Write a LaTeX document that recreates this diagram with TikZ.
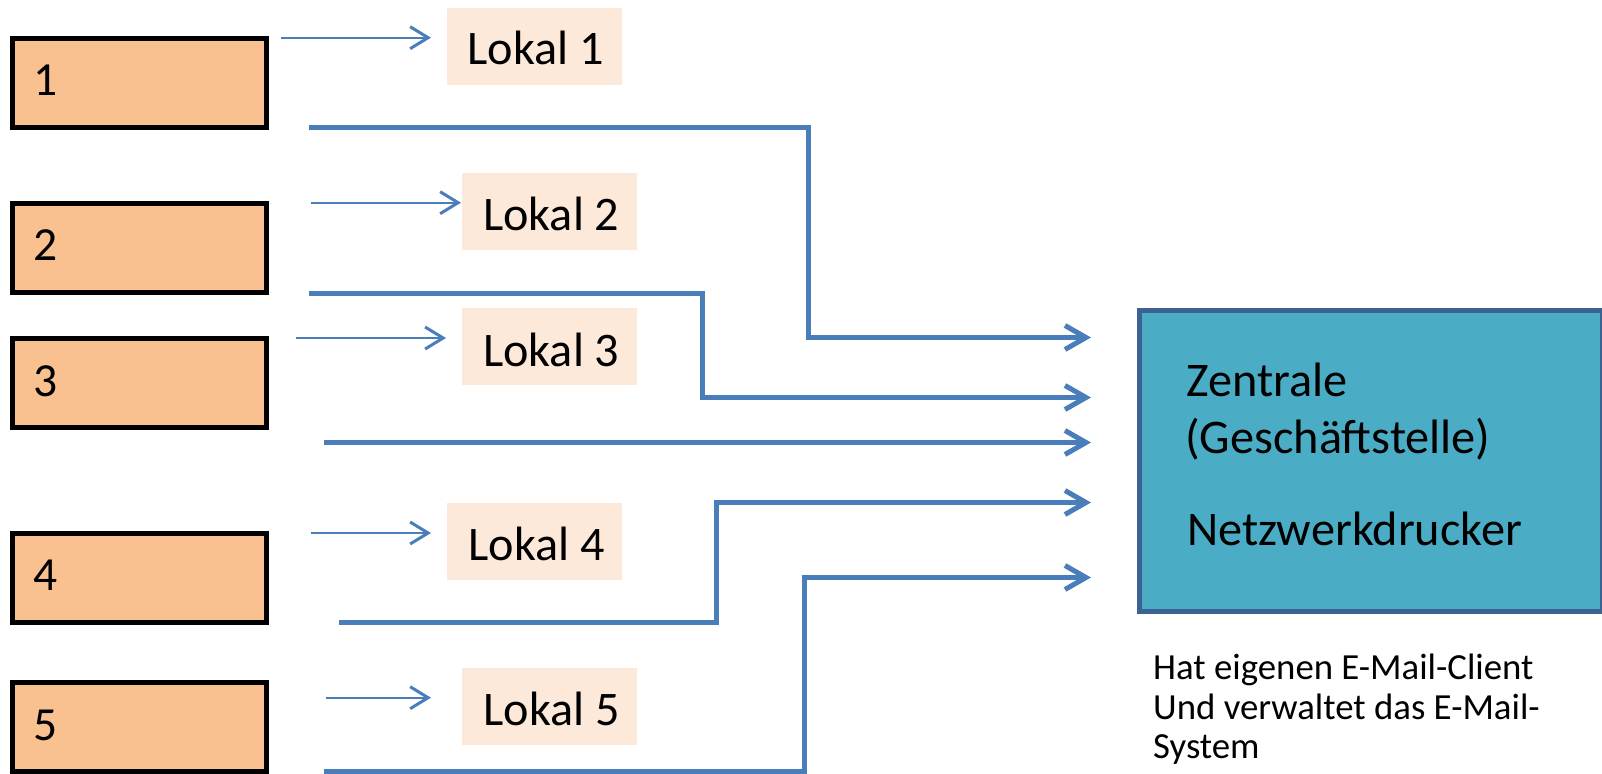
\documentclass[tikz,border=0pt]{standalone}
\usepackage{fontspec}
\setmainfont{Carlito}
\usetikzlibrary{arrows.meta}

\definecolor{sitefill}{HTML}{F9C090}
\definecolor{localfill}{HTML}{FDE9D9}
\definecolor{wire}{HTML}{4A7EBB}
\definecolor{hqfill}{HTML}{4BACC6}
\definecolor{hqline}{HTML}{3C6291}

\tikzset{
  site/.style={draw=black, line width=5pt, fill=sitefill, minimum width=254.5pt,
    minimum height=89.5pt, inner sep=0pt},
  sitelabel/.style={anchor=base west, inner sep=0pt, font=\fontsize{47.5}{57}\selectfont},
  localbox/.style={fill=localfill, minimum width=175pt, minimum height=77pt, inner sep=0pt},
  locallabel/.style={anchor=base west, inner sep=0pt, font=\fontsize{48.2}{57}\selectfont},
  hq/.style={draw=hqline, line width=5pt, fill=hqfill, inner sep=0pt},
  hqlabel/.style={anchor=base west, inner sep=0pt, font=\fontsize{48.3}{57}\selectfont},
  note/.style={anchor=base west, inner sep=0pt, font=\fontsize{36.8}{40}\selectfont},
  thin/.style={draw=wire, line width=2pt,
    -{Straight Barb[length=18pt,width=22pt,line width=3pt]}},
  thick/.style={draw=wire, line width=5pt, line join=miter,
    -{Straight Barb[length=21pt,width=24pt,line width=5pt]}}
}

\begin{document}
\begin{tikzpicture}[x=1pt,y=-1pt]
  \useasboundingbox (0,0) rectangle (1602,773);

  % sites on the left
  \node[site] (s1) at (139.25,82.85) {};
  \node[site] (s2) at (139.25,247.75) {};
  \node[site] (s3) at (139.25,382.75) {};
  \node[site] (s4) at (139.25,578) {};
  \node[site] (s5) at (139.25,727) {};
  \node[sitelabel] (n1) at (33,95.7) {1};
  \node[sitelabel] (n2) at (33,260) {2};
  \node[sitelabel] (n3) at (33,396) {3};
  \node[sitelabel] (n4) at (33,590.7) {4};
  \node[sitelabel] (n5) at (33,740.7) {5};

  % local printers
  \node[localbox, anchor=north west] (l1) at (447,8) {};
  \node[localbox, anchor=north west] (l2) at (462,173) {};
  \node[localbox, anchor=north west] (l3) at (462,308) {};
  \node[localbox, anchor=north west] (l4) at (447,503) {};
  \node[localbox, anchor=north west] (l5) at (462,668) {};
  \node[locallabel] (t1) at (467.5,65) {Lokal 1};
  \node[locallabel] (t2) at (483,230.5) {Lokal 2};
  \node[locallabel] (t3) at (483,366) {Lokal 3};
  \node[locallabel] (t4) at (468.5,560.5) {Lokal 4};
  \node[locallabel] (t5) at (483.5,725) {Lokal 5};

  % head office
  \node[hq, anchor=north west, minimum width=463pt, minimum height=301pt] (hq) at (1136.5,307.5) {};
  \node[hqlabel] (h1) at (1186,396) {Zentrale};
  \node[hqlabel] (h2) at (1185,453) {(Geschäftstelle)};
  \node[hqlabel] (h3) at (1187,545) {Netzwerkdrucker};
  \node[note] (c1) at (1153,679.3) {Hat eigenen E-Mail-Client};
  \node[note] (c2) at (1153,719.3) {Und verwaltet das E-Mail-};
  \node[note] (c3) at (1153,758.5) {System};

  % connector end points
  \coordinate (a1s) at (281,37.7);   \coordinate (a1e) at (431,37.7);
  \coordinate (a2s) at (311,202.7);  \coordinate (a2e) at (461,202.7);
  \coordinate (a3s) at (296,338);    \coordinate (a3e) at (446,338);
  \coordinate (a4s) at (311,533);    \coordinate (a4e) at (431,533);
  \coordinate (a5s) at (326,697.7);  \coordinate (a5e) at (431,697.7);

  \coordinate (w1s) at (309,127.5);  \coordinate (w1e) at (1091,337.5);
  \coordinate (w2s) at (309,293);    \coordinate (w2e) at (1091,397.5);
  \coordinate (w3s) at (324,442.5);  \coordinate (w3e) at (1091,442.5);
  \coordinate (w4s) at (339,622);    \coordinate (w4e) at (1091,502.5);
  \coordinate (w5s) at (324,771);    \coordinate (w5e) at (1091,577.5);

  % local print jobs
  \draw[thin] (a1s) -- (a1e);
  \draw[thin] (a2s) -- (a2e);
  \draw[thin] (a3s) -- (a3e);
  \draw[thin] (a4s) -- (a4e);
  \draw[thin] (a5s) -- (a5e);

  % network links to the head office
  \draw[thick] (w1s) -- (808,127.5) -- (808,337.5) -- (w1e);
  \draw[thick] (w2s) -- (702,293) -- (702,397.5) -- (w2e);
  \draw[thick] (w3s) -- (w3e);
  \draw[thick] (w4s) -- (716.5,622) -- (716.5,502.5) -- (w4e);
  \draw[thick] (w5s) -- (804,771) -- (804,577.5) -- (w5e);
\end{tikzpicture}
\end{document}
